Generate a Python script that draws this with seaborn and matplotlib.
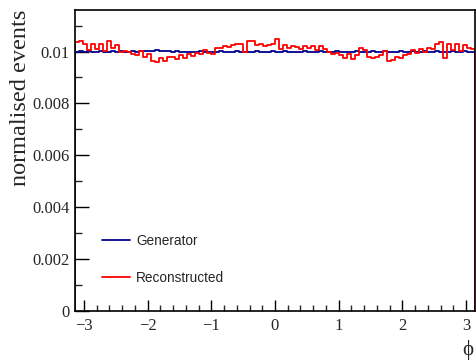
import numpy as np
import pandas as pd
import matplotlib
matplotlib.use("Agg")
import matplotlib.pyplot as plt
import seaborn as sns
from matplotlib.ticker import MultipleLocator, FuncFormatter

# ---- data (100 bins from -pi to pi) ----
n_bins = 100
edges = np.linspace(-np.pi, np.pi, n_bins + 1)
centers = 0.5 * (edges[:-1] + edges[1:])

generator = [
    0.01000, 0.01002, 0.00999, 0.01001, 0.01000, 0.00998, 0.01001, 0.01000, 0.00999, 0.01001,
    0.01000, 0.01002, 0.00999, 0.01000, 0.01001, 0.00999, 0.01002, 0.01003, 0.01001, 0.01002,
    0.01004, 0.01001, 0.01003, 0.01002, 0.01000, 0.01001, 0.00999, 0.01000, 0.00998, 0.01000,
    0.00999, 0.01001, 0.00999, 0.00998, 0.01000, 0.00999, 0.01001, 0.00998, 0.01000, 0.00999,
    0.01001, 0.01000, 0.00998, 0.01000, 0.00999, 0.01001, 0.01000, 0.00999, 0.01000, 0.01001,
    0.00999, 0.01000, 0.01001, 0.00999, 0.01000, 0.00998, 0.01000, 0.01001, 0.00999, 0.01000,
    0.00999, 0.01001, 0.01000, 0.00999, 0.01000, 0.01001, 0.00999, 0.00998, 0.00999, 0.01000,
    0.01001, 0.01000, 0.00999, 0.01000, 0.01001, 0.00999, 0.01000, 0.01001, 0.01000, 0.00999,
    0.01000, 0.01001, 0.00999, 0.01000, 0.01002, 0.01000, 0.00999, 0.01001, 0.01000, 0.00999,
    0.01001, 0.01000, 0.00999, 0.01000, 0.01001, 0.01000, 0.00999, 0.01001, 0.01000, 0.00999,
]

reconstructed = [
    0.01035, 0.01040, 0.01028, 0.01005, 0.01028, 0.01010, 0.01030, 0.01002, 0.01040, 0.01012,
    0.01025, 0.01000, 0.01002, 0.00998, 0.00990, 0.00985, 0.01002, 0.00978, 0.00990, 0.00962,
    0.00960, 0.00975, 0.00965, 0.00978, 0.00980, 0.00970, 0.00985, 0.00975, 0.00990, 0.00982,
    0.00995, 0.00990, 0.01005, 0.00995, 0.00990, 0.01012, 0.01015, 0.01020, 0.01018, 0.01025,
    0.01030, 0.01028, 0.01000, 0.01040, 0.01040, 0.01025, 0.01030, 0.01020, 0.01025, 0.01030,
    0.01048, 0.01010, 0.01025, 0.01015, 0.01020, 0.01018, 0.01010, 0.01022, 0.01012, 0.01020,
    0.01005, 0.01022, 0.01010, 0.01000, 0.00992, 0.00995, 0.00985, 0.00975, 0.00990, 0.00970,
    0.00985, 0.01015, 0.01005, 0.00980, 0.00975, 0.00978, 0.00985, 0.01002, 0.00965, 0.00968,
    0.00980, 0.00975, 0.00985, 0.00990, 0.01005, 0.00995, 0.01010, 0.01000, 0.01015, 0.01008,
    0.01030, 0.01035, 0.00975, 0.01030, 0.01005, 0.01028, 0.01002, 0.01025, 0.01015, 0.01010,
]

x_ticks = [-3, -2, -1, 0, 1, 2, 3]
y_ticks = [0, 0.002, 0.004, 0.006, 0.008, 0.01]

series = [("Generator", generator, "#00008f"), ("Reconstructed", reconstructed, "#ff0000")]

# ---- style ----
sns.set_style("ticks")
plt.rcParams["font.family"] = ["Liberation Serif", "DejaVu Serif"]
plt.rcParams["xtick.direction"] = "in"
plt.rcParams["ytick.direction"] = "in"

fig = plt.figure(figsize=(4.77, 3.60), dpi=100)
ax = fig.add_axes([75 / 477, 1 - 311 / 360, 400 / 477, 301 / 360])

for label, vals, color in series:
    df = pd.DataFrame({"phi": centers, "w": vals})
    sns.histplot(data=df, x="phi", weights="w", bins=n_bins, binrange=(-np.pi, np.pi),
                 element="step", fill=False, color=color, linewidth=1.3, ax=ax, label=label)
    # drop to baseline at histogram edges (as ROOT draws)
    ax.plot([edges[0], edges[0]], [0, vals[0]], color=color, linewidth=1.3)
    ax.plot([edges[-1], edges[-1]], [0, vals[-1]], color=color, linewidth=1.3)

ax.set_xlim(-np.pi, np.pi)
ax.set_ylim(0, 0.0116)

ax.set_xticks(x_ticks)
ax.xaxis.set_minor_locator(MultipleLocator(0.2))
ax.set_yticks(y_ticks)
ax.yaxis.set_minor_locator(MultipleLocator(0.001))
ax.yaxis.set_major_formatter(FuncFormatter(lambda v, p: "%g" % v))

ax.tick_params(axis="both", which="major", labelsize=12, width=1.0, color="black")
ax.tick_params(axis="x", which="major", length=8, pad=5)
ax.tick_params(axis="x", which="minor", length=4, width=1.0)
ax.tick_params(axis="y", which="major", length=10, pad=4)
ax.tick_params(axis="y", which="minor", length=5, width=1.0)

for s in ax.spines.values():
    s.set_visible(True)
    s.set_color("black")
    s.set_linewidth(1.2)

ax.set_xlabel("ϕ", fontsize=15, va="center")
ax.xaxis.set_label_coords(0.983, -0.13)
ax.xaxis.label.set_ha("center")
ax.set_ylabel("normalised events", fontsize=17.5, loc="top")
ax.yaxis.set_label_coords(-0.11, 1.0)

handles = [plt.Line2D([], [], color=c, linewidth=1.3) for _, _, c in series]
labels = [l for l, _, _ in series]
leg = ax.legend(handles, labels, loc="upper left", bbox_to_anchor=(0.058, 0.269),
                frameon=False, prop={"family": "Liberation Sans", "size": 9.8},
                labelspacing=1.7, handlelength=2.0, handletextpad=0.5,
                borderaxespad=0, borderpad=0.3)

fig.savefig("out.png", dpi=100)
